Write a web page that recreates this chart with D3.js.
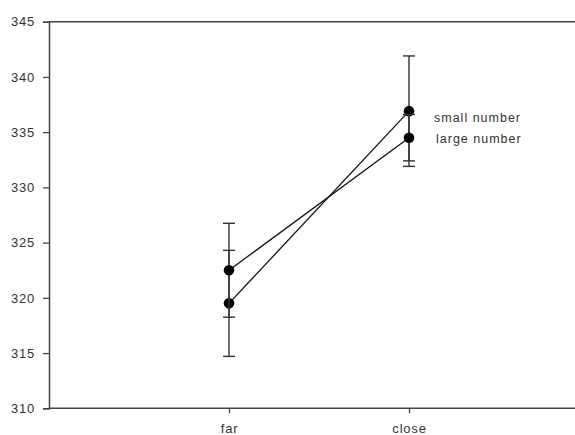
<!DOCTYPE html>
<html>
<head>
<meta charset="utf-8">
<script src="https://cdn.jsdelivr.net/npm/d3@7"></script>
<style>
  body { margin: 0; background: #fff; }
  text { font-family: Arial, "Liberation Sans", sans-serif; fill: #333; }
</style>
</head>
<body>
<script>
const WIDTH = 575
const HEIGHT = 435

// data
const categories = ['far', 'close']
const seriesNames = ['small number', 'large number']
const smallValues = [319.5, 336.9]
const smallErrors = [4.8, 5.0]
const largeValues = [322.5, 334.5]
const largeErrors = [4.25, 2.1]
const yTicks = [310, 315, 320, 325, 330, 335, 340, 345]

const series = [
  { name: seriesNames[0], values: smallValues, errors: smallErrors },
  { name: seriesNames[1], values: largeValues, errors: largeErrors }
]

const svg = d3.select('body').append('svg')
  .attr('width', WIDTH)
  .attr('height', HEIGHT)

const x = d3.scaleLinear().domain([0, 3]).range([49, 589])
const y = d3.scaleLinear().domain([310, 345]).range([408.3, 21.7])

// top frame line
svg.append('line')
  .attr('x1', x(0)).attr('x2', WIDTH)
  .attr('y1', y(345)).attr('y2', y(345))
  .attr('stroke', '#444').attr('stroke-width', 1.5)

// y axis
const yAxis = svg.append('g')
  .attr('transform', `translate(${x(0)},0)`)
  .call(d3.axisLeft(y).tickValues(yTicks).tickSize(6).tickPadding(8))
yAxis.select('.domain').attr('stroke', '#444').attr('stroke-width', 1.5)
yAxis.selectAll('.tick line').attr('stroke', '#444').attr('stroke-width', 1.3)
yAxis.selectAll('.tick text')
  .style('font-size', '13px').style('letter-spacing', '0.8px')
  .style('font-family', 'Arial, "Liberation Sans", sans-serif')
  .attr('fill', '#333')

// x axis
const xAxis = svg.append('g')
  .attr('transform', `translate(0,${y(310)})`)
  .call(d3.axisBottom(x).tickValues([1, 2]).tickFormat(d => categories[d - 1])
    .tickSize(5).tickPadding(10))
xAxis.select('.domain').attr('stroke', '#444').attr('stroke-width', 1.5)
  .attr('d', `M${x(0)},0H${WIDTH}`)
xAxis.selectAll('.tick line').attr('stroke', '#444').attr('stroke-width', 1.3)
xAxis.selectAll('.tick text')
  .style('font-size', '13px').style('letter-spacing', '0.8px')
  .style('font-family', 'Arial, "Liberation Sans", sans-serif')
  .attr('fill', '#333')

const line = d3.line().x((d, i) => x(i + 1)).y(d => y(d))

series.forEach(s => {
  const g = svg.append('g')

  // error bars
  s.values.forEach((v, i) => {
    const cx = x(i + 1)
    g.append('line')
      .attr('x1', cx).attr('x2', cx)
      .attr('y1', y(v - s.errors[i])).attr('y2', y(v + s.errors[i]))
      .attr('stroke', '#333').attr('stroke-width', 1.4)
    ;[v - s.errors[i], v + s.errors[i]].forEach(e => {
      g.append('line')
        .attr('x1', cx - 6).attr('x2', cx + 6)
        .attr('y1', y(e)).attr('y2', y(e))
        .attr('stroke', '#333').attr('stroke-width', 1.4)
    })
  })

  g.append('path')
    .datum(s.values)
    .attr('d', line)
    .attr('fill', 'none')
    .attr('stroke', '#111')
    .attr('stroke-width', 1.3)

  g.selectAll('circle')
    .data(s.values)
    .enter()
    .append('circle')
    .attr('cx', (d, i) => x(i + 1))
    .attr('cy', d => y(d))
    .attr('r', 5.3)
    .attr('fill', '#000')
})

// labels next to the close points
svg.append('text')
  .attr('x', 434).attr('y', y(336.9) + 11)
  .style('font-size', '12.5px').style('letter-spacing', '1px')
  .text(seriesNames[0])
svg.append('text')
  .attr('x', 436).attr('y', y(334.5) + 5)
  .style('font-size', '12.5px').style('letter-spacing', '1px')
  .text(seriesNames[1])
</script>
</body>
</html>
